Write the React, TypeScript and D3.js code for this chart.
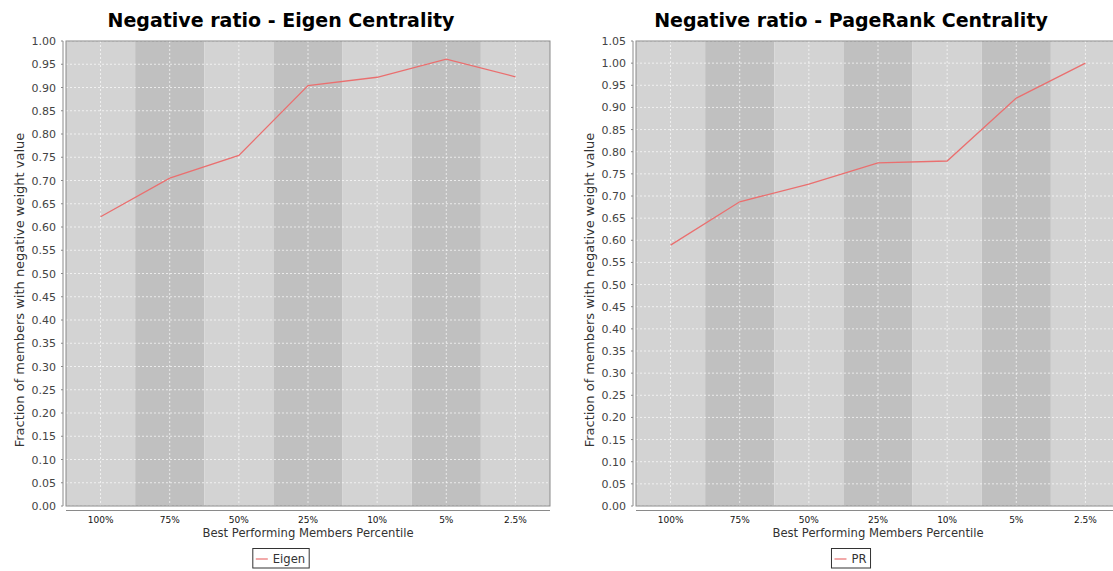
import React from "react";
import * as d3 from "d3";

// Percentile buckets along the category axis
const categories = ["100%", "75%", "50%", "25%", "10%", "5%", "2.5%"];

// Fraction of members with a negative weight value, per bucket
const eigenValues = [0.622, 0.705, 0.754, 0.904, 0.922, 0.961, 0.923];
const pageRankValues = [0.589, 0.687, 0.727, 0.775, 0.779, 0.921, 1.0];

const titles = ["Negative ratio - Eigen Centrality", "Negative ratio - PageRank Centrality"];
const seriesNames = ["Eigen", "PR"];
const yMaxima = [1.0, 1.05];

const FONT = "'DejaVu Sans', Verdana, sans-serif";
const LABEL_SIZE = 11.6;

function measure(text: string, font: string): number {
  const c = document.createElement("canvas").getContext("2d");
  if (!c) return text.length * 7;
  c.font = font;
  return c.measureText(text).width;
}

type ChartProps = {
  offset: number;
  title: string;
  name: string;
  values: number[];
  yMax: number;
};

function Chart({ offset, title, name, values, yMax }: ChartProps) {
  const left = 66 + offset;
  const right = 550 + offset;
  const top = 41;
  const bottom = 506;
  const center = 281 + offset;

  const x = d3.scaleBand<string>().domain(categories).range([left, right]).padding(0);
  const y = d3.scaleLinear().domain([0, yMax]).range([bottom, top]);
  const ticks = d3.range(0, yMax + 1e-9, 0.05).map((t) => Math.round(t * 100) / 100);

  const line = d3
    .line<number>()
    .x((_, i) => (x(categories[i]) as number) + x.bandwidth() / 2)
    .y((v) => y(v));

  const axisX = left - 3;
  const textW = measure(name, `${LABEL_SIZE}px ${FONT}`);
  const boxW = 3 + 12 + 5 + textW + 4;
  const boxX = center - boxW / 2;

  return (
    <g>
      <text x={center} y={27} textAnchor="middle" fontFamily={FONT} fontWeight="bold" fontSize={19} fill="#000">
        {title}
      </text>

      {/* alternating category bands */}
      {categories.map((c, i) => (
        <rect
          key={c}
          x={x(c)}
          y={top}
          width={x.bandwidth()}
          height={bottom - top}
          fill={i % 2 === 0 ? "#d3d3d3" : "#c0c0c0"}
        />
      ))}

      {/* gridlines */}
      {ticks.map((t) => (
        <line key={"h" + t} x1={left} x2={right} y1={y(t)} y2={y(t)} stroke="#fff" strokeOpacity={0.85} strokeWidth={0.8} strokeDasharray="2,2" />
      ))}
      {categories.map((c) => {
        const cx = (x(c) as number) + x.bandwidth() / 2;
        return <line key={"v" + c} x1={cx} x2={cx} y1={top} y2={bottom} stroke="#fff" strokeOpacity={0.85} strokeWidth={0.8} strokeDasharray="2,2" />;
      })}

      <rect x={left} y={top} width={right - left} height={bottom - top} fill="none" stroke="#8a8a8a" strokeWidth={1} />

      <path d={line(values) || ""} fill="none" stroke="#ea6f6f" strokeWidth={1.3} />

      {/* value axis */}
      <line x1={axisX} x2={axisX} y1={top} y2={bottom} stroke="#8a8a8a" />
      {ticks.map((t) => (
        <g key={"t" + t}>
          <line x1={axisX - 2} x2={axisX} y1={y(t)} y2={y(t)} stroke="#8a8a8a" />
          <text x={axisX - 7} y={y(t) + 4} textAnchor="end" fontFamily={FONT} fontSize={11} fill="#444">
            {t.toFixed(2)}
          </text>
        </g>
      ))}
      <text
        transform={`translate(${23.5 + offset},${290}) rotate(-90)`}
        textAnchor="middle"
        fontFamily={FONT}
        fontSize={13}
        fill="#333"
      >
        Fraction of members with negative weight value
      </text>

      {/* category axis */}
      <line x1={left} x2={right} y1={bottom + 4.5} y2={bottom + 4.5} stroke="#8a8a8a" />
      {categories.map((c) => (
        <text
          key={"c" + c}
          x={(x(c) as number) + x.bandwidth() / 2}
          y={522.5}
          textAnchor="middle"
          fontFamily={FONT}
          fontSize={9}
          fill="#111"
        >
          {c}
        </text>
      ))}
      <text x={(left + right) / 2} y={537} textAnchor="middle" fontFamily={FONT} fontSize={LABEL_SIZE} fill="#333">
        Best Performing Members Percentile
      </text>

      {/* legend */}
      <rect x={boxX} y={548.5} width={boxW} height={19.5} fill="#fff" stroke="#333" />
      <line x1={boxX + 3} x2={boxX + 15} y1={559} y2={559} stroke="#ea6f6f" strokeWidth={1.2} />
      <text x={boxX + 20} y={562.5} fontFamily={FONT} fontSize={LABEL_SIZE} fill="#333">
        {name}
      </text>
    </g>
  );
}

export default function App() {
  const series = [eigenValues, pageRankValues];
  return (
    <svg width={1113} height={571} style={{ position: "absolute", left: 0, top: 0, background: "#fff" }}>
      <rect width={1113} height={571} fill="#fff" />
      {series.map((vals, i) => (
        <Chart key={i} offset={i * 570} title={titles[i]} name={seriesNames[i]} values={vals} yMax={yMaxima[i]} />
      ))}
    </svg>
  );
}
